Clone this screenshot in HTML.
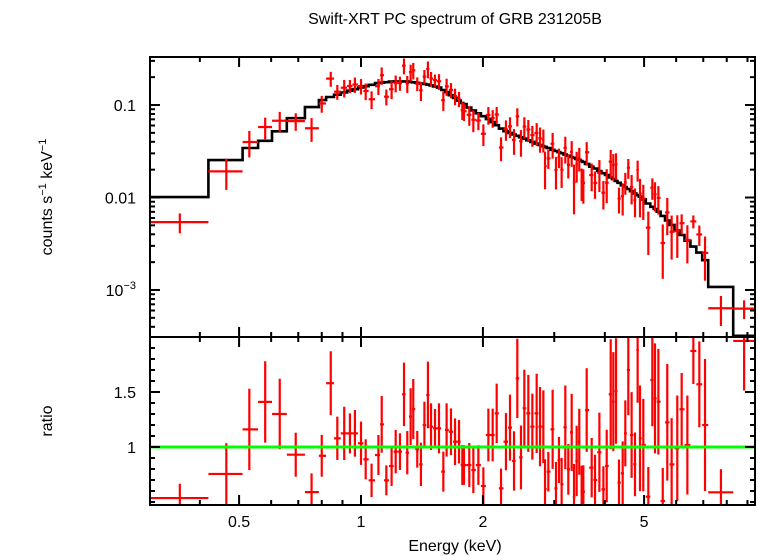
<!DOCTYPE html>
<html><head><meta charset="utf-8"><style>
body{margin:0;background:#fff}
svg{display:block}
text{font-family:"Liberation Sans",sans-serif;font-size:16px;fill:#000}
</style></head><body>
<svg id="chart" width="758" height="556" viewBox="0 0 758 556" xmlns="http://www.w3.org/2000/svg">
<defs>
<clipPath id="cTop"><rect x="150" y="57" width="605" height="280"/></clipPath>
<clipPath id="cBot"><rect x="150" y="337" width="605" height="168"/></clipPath>
</defs>
<text x="455" y="24" text-anchor="middle">Swift-XRT PC spectrum of GRB 231205B</text>
<text x="455" y="551" text-anchor="middle">Energy (keV)</text>
<text transform="translate(52,197) rotate(-90)" text-anchor="middle">counts s<tspan dy="-6" font-size="11">−1</tspan><tspan dy="6"> keV</tspan><tspan dy="-6" font-size="11">−1</tspan></text>
<text transform="translate(52,421) rotate(-90)" text-anchor="middle">ratio</text>
<g id="topG"></g>
<g id="botG"></g>
<g id="axG"></g>
</svg>
<script>
// Data bins: energy centres (keV), data/model ratio, ratio error
const energy=[0.357,0.465,0.53,0.58,0.63,0.69,0.755,0.80,0.842,
0.874,0.909,0.939,0.966,1.00,1.027,1.062,1.104,1.125,1.155,1.19,1.218,1.248,1.277,1.301,1.326,1.346,1.377,1.406,1.434,1.463,1.489,1.523,1.558,1.597,1.627,1.668,1.707,1.746,1.779,
1.796,1.851,1.894,1.949,2.005,2.063,2.114,2.163,2.217,2.28,2.333,2.387,2.432,2.483,2.531,2.589,2.649,2.715,2.767,2.82,2.847,2.901,2.973,3.03,3.082,3.129,3.195,3.25,3.313,3.357,3.408,3.459,3.506,3.54,3.608,3.712,3.783,3.878,3.967,4.043,4.136,4.198,4.263,4.335,4.427,4.494,4.571,4.658,4.748,4.82,4.885,4.978,5.122,5.24,5.32,5.423,5.56,5.705,5.848,6.039,6.191,6.395,6.616,6.845,7.07,7.74,8.83];
const ratio=[0.536,0.755,1.16,1.41,1.30,0.93,0.59,0.92,1.58,
1.079,1.124,1.124,1.124,1.034,0.888,0.697,0.927,1.206,0.697,0.827,0.958,0.958,1.479,0.948,1.276,1.345,0.979,0.842,1.2,1.473,1.185,1.17,1.17,0.776,1.155,1.139,1.048,1.048,0.836,
0.836,0.836,0.791,0.836,0.645,1.109,1.109,1.306,0.624,1.048,1.176,0.873,1.624,0.906,1.352,1.306,1.185,1.306,1.185,1.185,0.618,0.776,1.161,0.624,0.882,0.661,1.179,0.797,1.133,0.545,0.873,1.048,0.6,0.594,1.336,0.812,0.70,0.952,0.615,0.827,1.479,1.412,1.509,0.676,0.761,1.124,1.7,1.109,0.842,1.882,1.079,1.018,0.548,1.609,1.442,1.412,0.509,1.224,0.842,0.988,1.343,1.018,1.873,1.57,1.2,0.588,1.964];
const ratioErr=[0.13,0.28,0.37,0.37,0.32,0.2,0.17,0.19,0.29,
0.197,0.242,0.182,0.212,0.197,0.182,0.152,0.182,0.258,0.136,0.182,0.197,0.167,0.288,0.197,0.258,0.273,0.167,0.197,0.212,0.303,0.212,0.176,0.227,0.182,0.242,0.212,0.212,0.197,0.182,
0.18,0.2,0.21,0.18,0.17,0.24,0.24,0.27,0.18,0.26,0.3,0.27,0.36,0.29,0.35,0.35,0.3,0.36,0.36,0.33,0.27,0.18,0.36,0.24,0.21,0.24,0.38,0.23,0.35,0.3,0.32,0.3,0.23,0.24,0.38,0.27,0.23,0.36,0.21,0.33,0.5,0.45,0.48,0.21,0.29,0.3,0.41,0.39,0.29,0.48,0.48,0.42,0.27,0.42,0.5,0.48,0.3,0.53,0.42,0.48,0.33,0.45,0.3,0.39,0.6,0.21,0.45];
// Explicit bin edges for the wide low-energy bins and the last two bins (keV)
const lowBinEdges=[0.30,0.42,0.51,0.557,0.603,0.656,0.727,0.787,0.82];
const highBinEdges=[7.2,8.3,9.4];
// Model curve (keV, counts/s/keV)
const modelE=[0.357,0.465,0.53,0.58,0.63,0.69,0.755,0.80,0.9,1.0,1.1,1.2,1.3,1.45,1.57,1.89,2.08,2.24,2.77,3.47,4.12,4.9,5.47,6.13,6.87,7.07,7.74,8.83];
const modelV=[0.0101,0.0254,0.0343,0.041,0.052,0.072,0.095,0.113,0.135,0.155,0.172,0.18,0.18,0.168,0.153,0.088,0.069,0.0537,0.0369,0.0254,0.0167,0.0101,0.0068,0.0041,0.0025,0.0021,0.00108,0.00032];
const xTicksMajor=[0.5,1,2,5];
const xTickLabels=["0.5","1","2","5"];
const xTicksMinor=[0.4,0.6,0.7,0.8,0.9,3,4,6,7,8,9];
const ratioTicksMajor=[1,1.5];
const ratioTickLabels=["1","1.5"];

const NS="http://www.w3.org/2000/svg";
const X0=150,X1=755,TY0=57,TY1=337,BY1=505;
const xS=e=>361+405*Math.log10(e);
const yT=c=>105-92.5*(Math.log10(c)+1);
const yB=r=>447-110*(r-1);
function modelAt(e){
  if(e<=modelE[0])return modelV[0];
  for(let i=1;i<modelE.length;i++){if(e<=modelE[i]){const t=(Math.log(e)-Math.log(modelE[i-1]))/(Math.log(modelE[i])-Math.log(modelE[i-1]));return Math.exp(Math.log(modelV[i-1])+t*(Math.log(modelV[i])-Math.log(modelV[i-1])));}}
  return modelV[modelV.length-1];
}
function mk(tag,attrs,parent){const el=document.createElementNS(NS,tag);for(const k in attrs)el.setAttribute(k,attrs[k]);parent.appendChild(el);return el;}
const topG=document.getElementById('topG'),botG=document.getElementById('botG'),axG=document.getElementById('axG');
const n=energy.length;
const lo=[],hi=[];
for(let i=0;i<n;i++){
  lo.push(i===0?energy[0]*energy[0]/Math.sqrt(energy[0]*energy[1]):Math.sqrt(energy[i-1]*energy[i]));
  hi.push(i===n-1?energy[n-1]*energy[n-1]/Math.sqrt(energy[n-2]*energy[n-1]):Math.sqrt(energy[i]*energy[i+1]));
}
const nl=lowBinEdges.length-1;
for(let i=0;i<nl;i++){lo[i]=lowBinEdges[i];hi[i]=lowBinEdges[i+1];}
lo[nl]=lowBinEdges[nl];
const nh=highBinEdges.length-1;
for(let j=0;j<nh;j++){const i=n-nh+j;lo[i]=highBinEdges[j];hi[i]=highBinEdges[j+1];}
hi[n-nh-1]=highBinEdges[0];
const tg=mk('g',{'clip-path':'url(#cTop)'},topG);
const bg=mk('g',{'clip-path':'url(#cBot)'},botG);
// model steps
let d='';
for(let i=0;i<n;i++){const m=modelAt(energy[i]);const y=yT(m);d+=(i===0?'M':'L')+xS(lo[i]).toFixed(1)+','+y.toFixed(1)+'L'+xS(hi[i]).toFixed(1)+','+y.toFixed(1);}
const mp=mk('path',{d:d,fill:'none',stroke:'#000','stroke-width':2.6},tg);


// data points
for(let i=0;i<n;i++){
  const m=modelAt(energy[i]);const c=ratio[i]*m,er=ratioErr[i]*m;
  const xc=xS(energy[i]),xl=xS(lo[i]),xh=xS(hi[i]);
  const g=mk('g',{stroke:'#f00','stroke-width':2.2},tg);
  
  
  mk('line',{x1:xl,x2:xh,y1:yT(c),y2:yT(c)},g);
  const lowV=Math.max(c-er,1e-5);
  mk('line',{x1:xc,x2:xc,y1:yT(c+er),y2:yT(lowV)},g);
  const g2=mk('g',{stroke:'#f00','stroke-width':2.2},bg);
  
  
  mk('line',{x1:xl,x2:xh,y1:yB(ratio[i]),y2:yB(ratio[i])},g2);
  mk('line',{x1:xc,x2:xc,y1:yB(ratio[i]+ratioErr[i]),y2:yB(ratio[i]-ratioErr[i])},g2);
}
const gl=mk('line',{x1:X0,x2:X1,y1:yB(1),y2:yB(1),stroke:'#0f0','stroke-width':3},botG);


// frames
const f1=mk('rect',{x:X0,y:TY0,width:X1-X0,height:TY1-TY0,fill:'none',stroke:'#000','stroke-width':2},axG);


const f2=mk('rect',{x:X0,y:TY1,width:X1-X0,height:BY1-TY1,fill:'none',stroke:'#000','stroke-width':2},axG);


function tick(x1,y1,x2,y2){mk('line',{x1:x1,y1:y1,x2:x2,y2:y2,stroke:'#000','stroke-width':2},axG);}
// x ticks
xTicksMajor.forEach((e,i)=>{const x=xS(e);
  [TY0,TY1].forEach(y=>{tick(x,y,x,y+10);});
  [TY1,BY1].forEach(y=>{tick(x,y,x,y-10);});
  const t=mk('text',{x:x,y:527,'text-anchor':'middle'},axG);t.textContent=xTickLabels[i];
  
  
});
xTicksMinor.forEach(e=>{const x=xS(e);
  tick(x,TY0,x,TY0+5);tick(x,TY1,x,TY1-5);tick(x,TY1,x,TY1+5);tick(x,BY1,x,BY1-5);
});
// top y ticks
for(let dec=-4;dec<=0;dec++){
  for(let k=1;k<10;k++){const v=k*Math.pow(10,dec);const y=yT(v);if(y<TY0||y>TY1)continue;
    const L=k===1?10:5;tick(X0,y,X0+L,y);tick(X1,y,X1-L,y);}
}
[[0.1,"0.1"],[0.01,"0.01"]].forEach(p=>{const t=mk('text',{x:136,y:yT(p[0])+6,'text-anchor':'end'},axG);t.textContent=p[1];
  
  });
const t3=mk('text',{x:136,y:yT(0.001)+6,'text-anchor':'end'},axG);


t3.innerHTML='10<tspan dy="-7" font-size="11">−3</tspan>';
// ratio ticks
for(let r=0.5;r<2.0;r+=0.1){const y=yB(r);const maj=Math.abs(r-1)<0.01||Math.abs(r-1.5)<0.01;const L=maj?10:5;tick(X0,y,X0+L,y);tick(X1,y,X1-L,y);}
ratioTicksMajor.forEach((r,i)=>{const t=mk('text',{x:136,y:yB(r)+6,'text-anchor':'end'},axG);t.textContent=ratioTickLabels[i];
  
  });
</script>
</body></html>
